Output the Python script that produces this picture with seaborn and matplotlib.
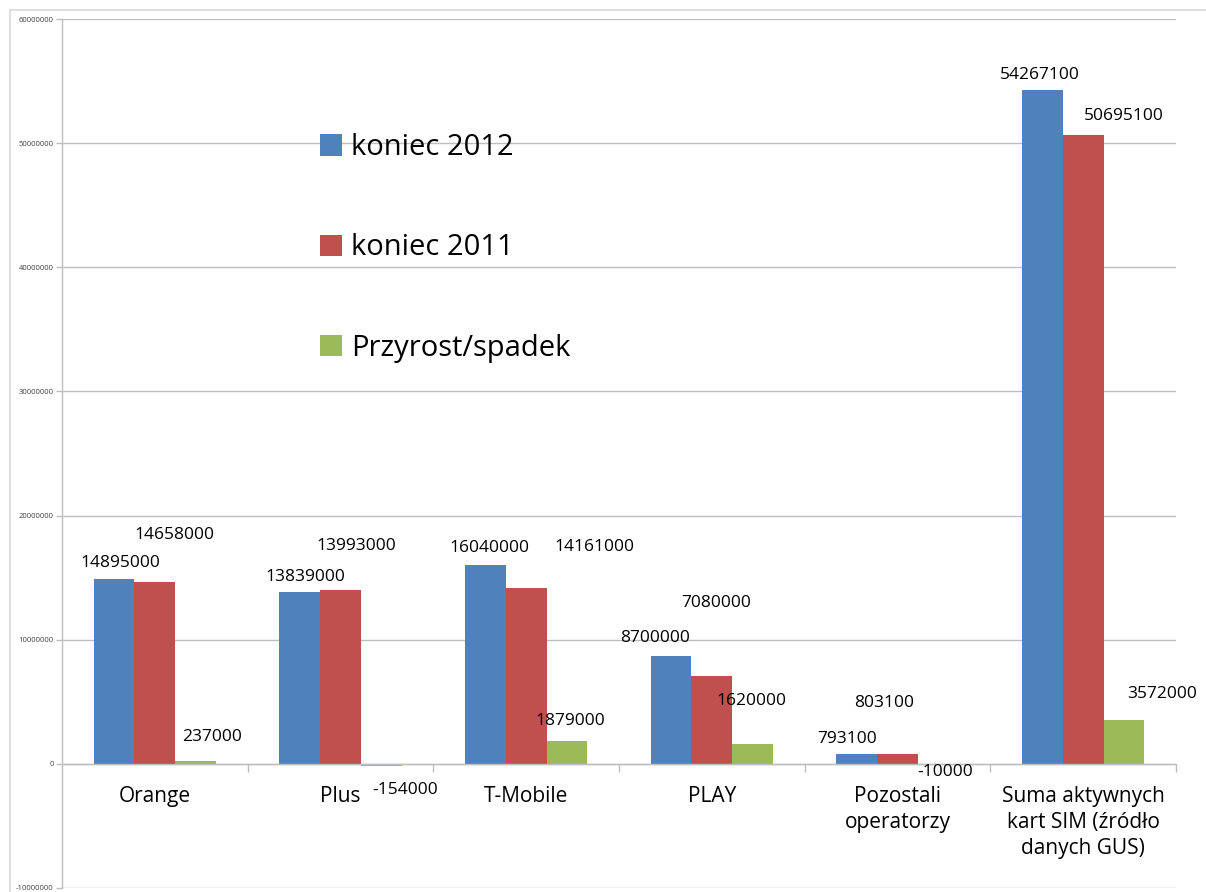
import matplotlib
matplotlib.use("Agg")
import matplotlib.pyplot as plt
import seaborn as sns
import pandas as pd
from matplotlib.ticker import FuncFormatter, FixedLocator
from matplotlib.patches import Rectangle, Patch

categories = ["Orange", "Plus", "T-Mobile", "PLAY", "Pozostali\noperatorzy",
              "Suma aktywnych\nkart SIM (źródło\ndanych GUS)"]
series_names = ["koniec 2012", "koniec 2011", "Przyrost/spadek"]
koniec_2012 = [14895000, 13839000, 16040000, 8700000, 793100, 54267100]
koniec_2011 = [14658000, 13993000, 14161000, 7080000, 803100, 50695100]
przyrost = [237000, -154000, 1879000, 1620000, -10000, 3572000]
colors = ["#4F81BD", "#C0504D", "#9BBB59"]
y_ticks = [-10000000, 0, 10000000, 20000000, 30000000, 40000000, 50000000, 60000000]

# label offsets (pixels) relative to bar end: (dx, dy) per series per category
offsets = {
    "koniec 2012": [(6, 16), (6, 15), (4, 17), (-16, 18), (-10, 15), (-3, 15)],
    "koniec 2011": [(20, 47), (16, 44), (68, 41), (4, 73), (-13, 51), (41, 19)],
    "Przyrost/spadek": [(16, 24), (24, -24), (3, 20), (-1, 43), (7, -8), (38, 26)],
}

rows = []
for s, vals in zip(series_names, [koniec_2012, koniec_2011, przyrost]):
    for c, v in zip(categories, vals):
        rows.append({"cat": c, "series": s, "value": v})
df = pd.DataFrame(rows)

sns.set_theme(style="white")
plt.rcParams["font.family"] = ["Open Sans", "DejaVu Sans"]
plt.rcParams["text.color"] = "#000000"

fig = plt.figure(figsize=(12.06, 8.92), dpi=100)
ax = fig.add_axes([62 / 1206, 1 - 888 / 892, (1176 - 62) / 1206, (888 - 19) / 892])

sns.barplot(data=df, x="cat", y="value", hue="series", order=categories,
            hue_order=series_names, palette=colors, width=0.66, gap=0,
            errorbar=None, saturation=1, ax=ax, legend=False, linewidth=0,
            edgecolor="none")

ax.set_ylim(-10000000, 60000000)
ax.set_xlim(-0.5, len(categories) - 0.5)
ax.yaxis.set_major_locator(FixedLocator(y_ticks))
ax.yaxis.set_major_formatter(FuncFormatter(lambda v, p: f"{int(round(v))}"))
ax.grid(axis="y", color="#BEBEBE", linewidth=1.0)
ax.set_axisbelow(True)
ax.set_xlabel("")
ax.set_ylabel("")

for sp in ["top", "right"]:
    ax.spines[sp].set_visible(False)
ax.spines["left"].set_color("#BEBEBE")
ax.spines["left"].set_linewidth(1.0)
ax.spines["bottom"].set_position(("data", 0))
ax.spines["bottom"].set_color("#BEBEBE")
ax.spines["bottom"].set_linewidth(1.0)

ax.tick_params(axis="y", which="major", length=4, width=1, color="#BEBEBE",
               labelsize=5.5, labelcolor="#404040", pad=2, left=True)
ax.set_xticks(range(len(categories)))
ax.set_xticklabels(categories, fontsize=15, color="#000000", linespacing=1.3,
                   va="top")
ax.tick_params(axis="x", which="major", length=0, pad=16)
ax.set_xticks([i + 0.5 for i in range(len(categories))], minor=True)
ax.tick_params(axis="x", which="minor", length=6, width=1, color="#BEBEBE",
               bottom=True)

# value labels
for s_idx, s in enumerate(series_names):
    cont = ax.containers[s_idx]
    for i, bar in enumerate(cont.patches):
        v = df[(df.series == s)]["value"].iloc[i]
        x = bar.get_x() + bar.get_width() / 2
        dx, dy = offsets[s][i]
        ax.annotate(f"{v}", (x, v), xytext=(dx, dy), textcoords="offset pixels",
                    ha="center", va="center", fontsize=12.5, color="#000000")

handles = [Patch(facecolor=c, edgecolor="none") for c in colors]
leg = ax.legend(handles, series_names, loc="upper left",
                bbox_to_anchor=((320 - 62) / 1114, (888 - 133) / 869),
                frameon=False, fontsize=21, labelspacing=2.45,
                handlelength=0.75, handleheight=0.75, handletextpad=0.3,
                borderpad=0, borderaxespad=0, labelcolor="#000000")

fig.patches.append(Rectangle((10 / 1206, -0.1), 1.2, 1 - 10 / 892 + 0.1,
                             transform=fig.transFigure, fill=False,
                             edgecolor="#D9D9D9", linewidth=1.2))

fig.savefig("out.png", dpi=100)
